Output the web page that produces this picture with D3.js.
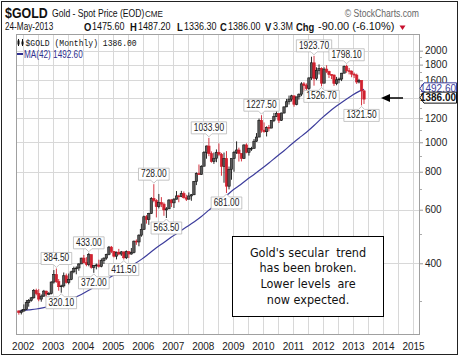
<!DOCTYPE html>
<html><head><meta charset="utf-8">
<script src="https://cdn.jsdelivr.net/npm/d3@7"></script>
<style>body{margin:0;background:#fff}svg{display:block}</style>
</head><body><svg id="c" width="460" height="357"></svg>
<script>
// ---- data (monthly, Nov 2001 .. May 2013) ----
const firstMonth = [2001, 10]; // year, month index (Nov)
const opens = [278.8,275.5,
278.7,282.3,296.8,302.0,308.0,326.0,318.0,305.0,312.0,324.0,317.0,318.0,
347.0,367.0,348.0,335.0,337.0,364.0,346.0,354.0,375.0,384.0,386.0,398.0,
416.0,402.0,396.0,427.0,388.0,394.0,395.0,391.0,408.0,416.0,428.0,452.0,
438.0,422.0,435.0,429.0,436.0,417.0,437.0,429.0,434.0,473.0,470.0,495.0,
517.0,569.0,557.0,583.0,654.0,643.0,614.0,633.0,626.0,599.0,604.0,646.0,
632.0,650.0,666.0,663.0,678.0,657.0,650.0,666.0,672.0,743.0,789.0,783.0,
834.0,925.0,972.0,917.0,864.0,886.0,927.0,913.0,833.0,884.0,717.0,815.0,
884.0,927.0,943.0,919.0,884.0,980.0,927.0,955.0,955.0,1008.0,1040.0,1181.0,
1096.0,1083.0,1119.0,1113.0,1179.0,1214.0,1244.0,1181.0,1248.0,1307.0,1359.0,1386.0,
1421.0,1333.0,1410.0,1439.0,1556.0,1536.0,1500.0,1628.0,1825.0,1620.0,1722.0,1746.0,
1564.0,1740.0,1710.0,1669.0,1664.0,1560.0,1604.0,1614.0,1687.0,1773.0,1719.0,1713.0,
1675.0,1663.0,1578.0,1596.0,1475.6];
const highs = [280.0,282.0,
293.0,303.0,305.0,310.0,329.0,330.0,329.0,316.0,327.0,325.0,322.0,349.0,
380.0,384.5,355.0,340.0,373.0,370.0,370.0,378.0,390.0,391.0,400.0,417.0,
426.0,419.0,433.0,428.0,395.0,399.0,411.0,415.0,418.0,430.0,456.0,456.0,
438.0,437.0,446.0,439.0,437.0,441.0,438.0,449.0,475.0,479.0,498.0,540.0,
574.0,576.0,586.0,660.0,728.0,650.0,676.0,660.0,634.0,612.0,649.0,651.0,
655.0,691.0,672.0,692.0,689.0,672.0,684.0,676.0,746.0,796.0,845.0,840.0,
935.0,975.0,1033.9,933.0,925.0,947.0,991.0,922.0,925.0,935.0,832.0,885.0,
937.0,1007.0,960.0,920.0,983.0,992.0,960.0,966.0,1025.0,1072.0,1196.0,1227.5,
1162.0,1128.0,1140.0,1180.0,1249.0,1266.0,1244.0,1251.0,1311.0,1388.0,1424.0,1432.0,
1424.0,1411.0,1447.0,1576.0,1577.0,1561.0,1632.0,1911.0,1923.7,1764.0,1803.0,1764.0,
1764.0,1791.0,1719.0,1676.0,1670.0,1640.0,1632.0,1691.0,1788.0,1798.1,1755.0,1723.0,
1695.0,1681.0,1616.0,1599.0,1487.2];
const lows = [271.0,271.5,
277.0,281.0,288.0,299.0,306.0,314.0,300.0,299.0,310.0,311.0,314.0,316.0,
343.0,345.0,325.0,320.1,333.0,343.0,341.0,352.0,371.0,368.0,378.0,398.0,
399.0,391.0,391.0,384.0,372.0,382.0,387.0,388.0,398.0,411.0,425.0,432.0,
418.0,412.0,425.0,423.0,411.5,413.0,416.0,427.0,431.0,460.0,455.0,489.0,
515.0,540.0,535.0,581.0,635.0,566.0,606.0,612.0,573.0,563.5,603.0,612.0,
608.0,648.0,635.0,660.0,653.0,641.0,648.0,642.0,670.0,723.0,781.0,781.0,
834.0,883.0,900.0,857.0,849.0,860.0,900.0,776.0,736.0,681.0,700.0,753.0,
800.0,915.0,864.0,865.0,882.0,920.0,904.0,937.0,953.0,1003.0,1040.0,1075.0,
1075.0,1045.0,1086.0,1113.0,1165.0,1209.0,1157.0,1175.0,1242.0,1305.0,1330.0,1361.0,
1309.0,1323.0,1381.0,1418.0,1462.0,1477.0,1483.0,1603.0,1535.0,1600.0,1670.0,1526.7,
1564.0,1688.0,1627.0,1613.0,1532.0,1540.0,1563.0,1589.0,1687.0,1692.0,1672.0,1636.0,
1626.0,1555.0,1562.0,1321.5,1336.3];
const closes = [275.5,278.7,
282.3,296.8,302.0,308.0,326.0,318.0,305.0,312.0,324.0,317.0,318.0,347.0,
367.0,348.0,335.0,337.0,364.0,346.0,354.0,375.0,384.0,386.0,398.0,416.0,
402.0,396.0,427.0,388.0,394.0,395.0,391.0,408.0,416.0,428.0,452.0,438.0,
422.0,435.0,429.0,436.0,417.0,437.0,429.0,434.0,473.0,470.0,495.0,517.0,
569.0,557.0,583.0,654.0,643.0,614.0,633.0,626.0,599.0,604.0,646.0,632.0,
650.0,666.0,663.0,678.0,657.0,650.0,666.0,672.0,743.0,789.0,783.0,834.0,
925.0,972.0,917.0,864.0,886.0,927.0,913.0,833.0,884.0,717.0,815.0,884.0,
927.0,943.0,919.0,884.0,980.0,927.0,955.0,955.0,1008.0,1040.0,1181.0,1096.0,
1083.0,1119.0,1113.0,1179.0,1214.0,1244.0,1181.0,1248.0,1307.0,1359.0,1386.0,1421.0,
1333.0,1410.0,1439.0,1556.0,1536.0,1500.0,1628.0,1825.0,1620.0,1722.0,1746.0,1564.0,
1740.0,1710.0,1669.0,1664.0,1560.0,1604.0,1614.0,1687.0,1773.0,1719.0,1713.0,1675.0,
1663.0,1578.0,1596.0,1476.0,1386.0];

// MA(42) (quarter ends)
const maMonths = ["2001-11","2001-12","2002-03","2002-06","2002-09","2002-12","2003-03","2003-06","2003-09","2003-12",
"2004-03","2004-06","2004-09","2004-12","2005-03","2005-06","2005-09","2005-12","2006-03","2006-06","2006-09","2006-12",
"2007-03","2007-06","2007-09","2007-12","2008-03","2008-06","2008-09","2008-12","2009-03","2009-06","2009-09","2009-12",
"2010-03","2010-06","2010-09","2010-12","2011-03","2011-06","2011-09","2011-12","2012-03","2012-06","2012-09","2012-12",
"2013-03","2013-05"];
const maValues = [278,279,281,283,286,290,295,301,308,316,
326,338,350,362,372,384,397,412,430,450,468,488,
506,526,547,570,598,628,657,690,719,752,784,818,
855,896,938,985,1031,1079,1135,1198,1258,1315,1370,1423,
1470,1492.6];

// labelled pivots
const pivotMonths = ["2003-02","2003-04","2004-03","2004-05","2005-05","2006-05","2006-10","2008-03","2008-10","2009-12","2011-09","2011-12","2012-10","2013-04"];
const pivotValues = [384.50,320.10,433.00,372.00,411.50,728.00,563.50,1033.90,681.00,1227.50,1923.70,1526.70,1798.10,1321.50];
const pivotSide = ["high","low","high","low","low","high","low","high","low","high","high","low","high","low"];

const yGridValues = [400,600,800,1000,1200,1400,1600,1800,2000];
const yTickValues = [400,600,800,1000,1200,1600,1800,2000]; // 1400 sits under the price tag
const yMinorTicks = [300,500,700,900,1100,1300,1500,1700,1900];
const yearTicks = [2002,2003,2004,2005,2006,2007,2008,2009,2010,2011,2012,2013,2014,2015];

const headerFields = [["O","1475.60"],["H","1487.20"],["L","1336.30"],["C","1386.00"],["V","3.3M"],["Chg","-90.00 (-6.10%)"]];
const noteLines = ["Gold's secular  trend","has been broken.","Lower levels  are","now expected."];

// ---- drawing ----
const svg = d3.select("#c");
const L = 16, R = 420, T = 34, B = 335;
const x = d3.scaleTime().domain([new Date(2002,0,1), new Date(2015,0,1)]).range([22.7, 413]);
const y = d3.scaleLog().domain([232.4, 2269.6]).range([B, T]);
const parseM = d3.timeParse("%Y-%m");
const mid = d => new Date(d.getFullYear(), d.getMonth(), 15);

const months = d3.timeMonth.range(new Date(firstMonth[0], firstMonth[1], 1), new Date(2013, 5, 1));
const candles = months.map((d,i)=>({d, o:opens[i], h:highs[i], l:lows[i], c:closes[i], prev: i>0?closes[i-1]:opens[i]}));

const SANS = "'Liberation Sans',Arial,sans-serif";
const SQ = 0.82; // horizontal squeeze to mimic a narrow face
function ntext(g, px, py, s, size, o={}) {
  const t = g.append("text").attr("transform",`translate(${px},${py}) scale(${o.sq||SQ},1)`)
    .attr("font-family",o.family||SANS).attr("font-size",size).attr("fill",o.fill||"#111")
    .attr("font-weight",o.bold?"bold":"normal").attr("text-anchor",o.anchor||"start").text(s);
  return t;
}

// outer frame
svg.append("rect").attr("x",1.5).attr("y",1.5).attr("width",456).attr("height",353)
  .attr("fill","#fff").attr("stroke","#222").attr("stroke-width",1);

// header
const h1 = svg.append("g");
ntext(h1, 5, 18, "$GOLD", 15.5, {bold:true, sq:0.8});
ntext(h1, 52, 17, "Gold - Spot Price (EOD)", 10.5);
ntext(h1, 145, 17, "CME", 8.5, {sq:0.95});
ntext(h1, 419, 17, "\u00A9 StockCharts.com", 10.5, {anchor:"end", fill:"#666"});

ntext(h1, 5, 30, "24-May-2013", 10);
const fieldX = [[84,92],[130,138],[177,184],[220,228],[265,273],[296,318]];
headerFields.forEach((f,i)=>{
  ntext(h1, fieldX[i][0], 30.5, f[0], 11.5, {bold:true});
  ntext(h1, fieldX[i][1], 30, f[1], i===5 ? 11 : 10, {sq: i===5 ? 1 : 0.9});
});
h1.append("path").attr("d","M399.5,25.5 L405.5,25.5 L402.5,30 Z").attr("fill","#c8102e");

// plot area
const plot = svg.append("g");
plot.append("rect").attr("x",L+0.5).attr("y",T+0.5).attr("width",R-L-1).attr("height",B-T-1)
  .attr("fill","#fff").attr("stroke","#a0a0a0");
const vGrid = d3.timeMonth.every(6).range(new Date(2002,0,1), new Date(2015,0,2));
plot.selectAll(".vg").data(vGrid).join("line")
  .attr("x1",d=>Math.round(x(d))+0.5).attr("x2",d=>Math.round(x(d))+0.5).attr("y1",T+1).attr("y2",B-1)
  .attr("stroke","#d8d8d8").attr("stroke-width",1);
plot.selectAll(".hg").data(yGridValues).join("line")
  .attr("x1",L+1).attr("x2",R-1).attr("y1",d=>Math.round(y(d))+0.5).attr("y2",d=>Math.round(y(d))+0.5)
  .attr("stroke","#d8d8d8").attr("stroke-width",1);

// right axis
const yAxis = d3.axisRight(y).tickValues(yTickValues).tickFormat(d3.format("d")).tickSize(3).tickPadding(2);
const ya = svg.append("g").attr("transform",`translate(${R},0)`).call(yAxis);
ya.select(".domain").remove();
ya.selectAll("text").attr("font-family",SANS).attr("font-size",10).attr("fill","#222");
ya.selectAll("line").attr("stroke","#999");
svg.append("g").selectAll("line").data(yMinorTicks).join("line")
  .attr("x1",R).attr("x2",R+2).attr("y1",d=>Math.round(y(d))+0.5).attr("y2",d=>Math.round(y(d))+0.5).attr("stroke","#aaa");

// bottom axis
const xAxis = d3.axisBottom(x).tickValues(yearTicks.map(yy=>new Date(yy,0,1))).tickFormat(d3.timeFormat("%Y")).tickSize(0).tickPadding(8);
const xa = svg.append("g").attr("transform",`translate(0,${B})`).call(xAxis);
xa.select(".domain").remove();
xa.selectAll("text").attr("font-family",SANS).attr("font-size",10).attr("fill","#222");

// MA line
const maData = maMonths.map((m,i)=>({d: mid(parseM(m)), v: maValues[i]}));
plot.append("path").datum(maData).attr("fill","none").attr("stroke","#3d3d9c").attr("stroke-width",1.2)
  .attr("d", d3.line().x(d=>x(d.d)).y(d=>y(d.v)).curve(d3.curveMonotoneX));

// candles
const cg = plot.append("g");
candles.forEach(k=>{
  const xc = x(mid(k.d));
  const down = k.c < k.prev;
  const col = down ? "#d0202e" : "#111";
  cg.append("line").attr("x1",xc).attr("x2",xc).attr("y1",y(k.h)).attr("y2",y(k.l)).attr("stroke",col).attr("stroke-width",0.9);
  const top = y(Math.max(k.o,k.c)), bot = y(Math.min(k.o,k.c));
  const hollow = k.c >= k.o;
  cg.append("rect").attr("x",xc-1.2).attr("width",2.4).attr("y",top).attr("height",Math.max(0.8,bot-top))
    .attr("fill", hollow ? "#5a5a5a" : col).attr("stroke",col).attr("stroke-width",0.6);
});

// pivot labels
const lg = svg.append("g");
const lgBoxes = lg.append("g"), lgText = lg.append("g");
pivotMonths.forEach((m,i)=>{
  const xc = x(mid(parseM(m)));
  const yv = y(pivotValues[i]);
  const s = pivotValues[i].toFixed(2);
  const h = 12;
  let tp, b;
  if (pivotSide[i] === "high") { b = yv - 4; tp = b - h; } else { tp = yv + 4; b = tp + h; }
  const t = ntext(lgText, xc, b - 3, s, 10, {anchor:"middle", fill:"#222", sq:0.84});
  const tw = t.node().getComputedTextLength() * 0.84;
  const w = tw + 5;
  const l = xc - w/2, r = xc + w/2;
  const d = pivotSide[i] === "high"
    ? `M${l},${tp}H${r}V${b}H${xc+3}L${xc},${b+3}L${xc-3},${b}H${l}Z`
    : `M${l},${tp}H${xc-3}L${xc},${tp-3}L${xc+3},${tp}H${r}V${b}H${l}Z`;
  lgBoxes.append("path").attr("d",d).attr("fill","#fff").attr("stroke","#b8b8b8").attr("stroke-width",0.8);
});

// legend
const leg = svg.append("g");
leg.append("line").attr("x1",18.5).attr("x2",18.5).attr("y1",39).attr("y2",46).attr("stroke","#111");
leg.append("rect").attr("x",17.5).attr("y",40.5).attr("width",2).attr("height",4).attr("fill","#111");
leg.append("line").attr("x1",22.5).attr("x2",22.5).attr("y1",39).attr("y2",46).attr("stroke","#111");
leg.append("rect").attr("x",21.5).attr("y",41.5).attr("width",2).attr("height",3).attr("fill","#111");
ntext(leg, 25.5, 46, "$GOLD (Monthly) 1386.00", 9.5, {family:"'Liberation Mono','DejaVu Sans Mono',monospace", sq:0.85});
leg.append("line").attr("x1",17).attr("x2",23).attr("y1",54).attr("y2",54).attr("stroke","#2f2f8f").attr("stroke-width",2);
ntext(leg, 24, 57.5, "MA(42) 1492.60", 10, {fill:"#2f2f8f"});

// price tags
function tag(val, yc, stroke, txtCol, bold){
  const g = svg.append("g");
  g.append("path").attr("d",`M${R},${yc} L${R+4},${yc-5.5} H456.5 V${yc+5.5} H${R+4} Z`)
    .attr("fill","#fff").attr("stroke",stroke).attr("stroke-width",1);
  g.append("text").attr("x",438).attr("y",yc+3.6).attr("text-anchor","middle").attr("font-family",SANS)
    .attr("font-size",10).attr("font-weight",bold?"bold":"normal").attr("fill",txtCol).text(val);
}
tag("1492.60", y(1492.6)-1, "#3d3d9c", "#3d3d9c", false);
tag("1386.00", y(1386)-1.5, "#111", "#111", true);

// arrow
svg.append("line").attr("x1",403).attr("x2",387).attr("y1",98).attr("y2",98).attr("stroke","#000").attr("stroke-width",1.5);
svg.append("path").attr("d","M381,98 L390,94 L390,102 Z").attr("fill","#000");

// note box
const nb = svg.append("g");
nb.append("rect").attr("x",232.5).attr("y",236.5).attr("width",151).attr("height",80).attr("fill","#fff").attr("stroke","#000");
noteLines.forEach((s,i)=>{
  nb.append("text").attr("x",308).attr("y",256.5+i*15.7).attr("text-anchor","middle")
    .attr("font-family","'DejaVu Sans Condensed','DejaVu Sans',sans-serif").attr("font-size",12.5).attr("fill","#111")
    .style("white-space","pre").text(s);
});
</script>
</body></html>
